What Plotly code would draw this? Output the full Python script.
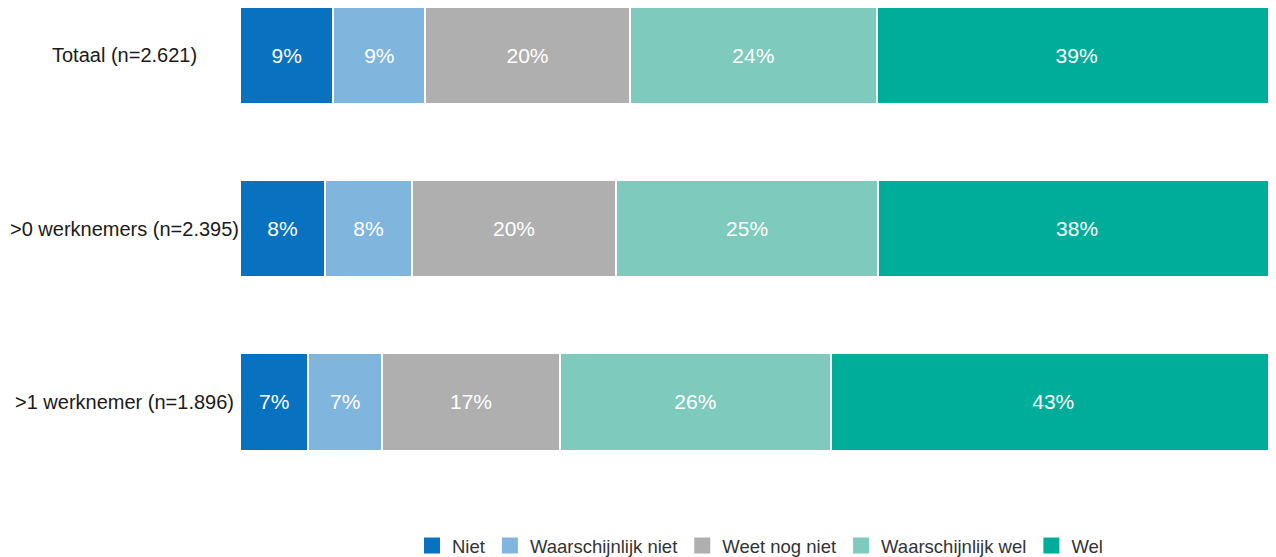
import plotly.graph_objects as go

categories = ["Totaal (n=2.621)", ">0 werknemers (n=2.395)", ">1 werknemer (n=1.896)"]
series_names = ["Niet", "Waarschijnlijk niet", "Weet nog niet", "Waarschijnlijk wel", "Wel"]
niet = [9.0, 8.2, 6.6]
waarschijnlijk_niet = [8.9, 8.4, 7.1]
weet_nog_niet = [19.7, 19.7, 17.2]
waarschijnlijk_wel = [23.9, 25.3, 26.1]
wel = [38.5, 38.4, 43.0]
labels = [
    ["9%", "8%", "7%"],
    ["9%", "8%", "7%"],
    ["20%", "20%", "17%"],
    ["24%", "25%", "26%"],
    ["39%", "38%", "43%"],
]
colors = ["#0872c1", "#80b5de", "#afafaf", "#7ecabc", "#00ad9a"]

values = [niet, waarschijnlijk_niet, weet_nog_niet, waarschijnlijk_wel, wel]
FONT = "Liberation Sans, Arial, sans-serif"

W, H = 1300, 557
L, R = 232, 0
plot_w = W - L - R
bar_px = 1036  # pixel length of the 100% bars
x_max = 100 * plot_w / bar_px

fig = go.Figure()
for name, vals, txt, col in zip(series_names, values, labels, colors):
    fig.add_trace(go.Bar(
        y=categories, x=vals, orientation="h", name=name,
        marker=dict(color=col, line=dict(color="white", width=2)),
        text=txt, textposition="inside", insidetextanchor="middle",
        textangle=0, textfont=dict(color="white", size=21, family=FONT),
        width=0.56, showlegend=False, hoverinfo="skip",
    ))
    fig.add_trace(go.Scatter(
        x=[None], y=[None], mode="markers", name=name,
        marker=dict(symbol="square", size=20, color=col),
        showlegend=True,
    ))

for c in categories:
    fig.add_annotation(
        x=(116 - L) / plot_w, xref="paper", y=c, yref="y", text=c, showarrow=False,
        xanchor="center", yanchor="middle",
        font=dict(size=20, color="#1a1a1a", family=FONT),
    )

fig.update_layout(
    barmode="stack",
    width=W, height=H,
    margin=dict(l=L, r=R, t=0, b=57),
    plot_bgcolor="white", paper_bgcolor="white",
    xaxis=dict(range=[0, x_max], visible=False, showgrid=False, zeroline=False),
    yaxis=dict(categoryorder="array", categoryarray=categories,
               range=[2.611, -0.271], showticklabels=False,
               showgrid=False, zeroline=False, showline=False),
    legend=dict(orientation="h", x=(752 - L) / plot_w, xanchor="center",
                y=-0.076, yanchor="middle",
                traceorder="normal",
                font=dict(size=18.5, color="#333333", family=FONT)),
    font=dict(family=FONT),
)

fig.write_html("out.html")
